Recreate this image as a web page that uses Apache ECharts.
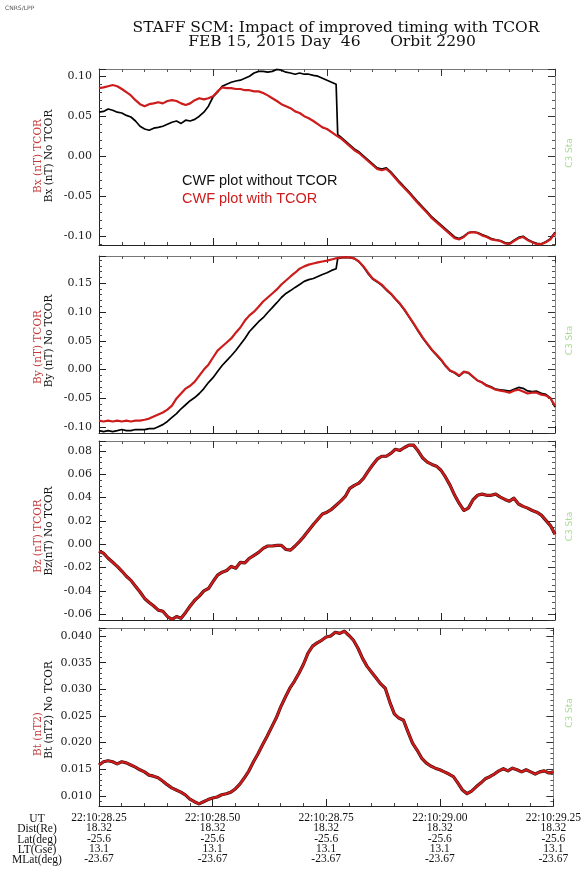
<!DOCTYPE html>
<html>
<head>
<meta charset="utf-8">
<script src="https://cdn.jsdelivr.net/npm/echarts@6/dist/echarts.min.js"></script>
<style>
  html, body { margin: 0; padding: 0; background: #fff; }
  #chart { width: 584px; height: 874px; }
</style>
</head>
<body>
<div id="chart"></div>
<script>
// Sample grid: seconds after 22:10, one sample every 0.01 s
const T0 = 28.25;
const DT = 0.01;

// UT tick labels and orbit information rows
const utLabels = ['22:10:28.25', '22:10:28.50', '22:10:28.75', '22:10:29.00', '22:10:29.25'];
const distRe = ['18.32', '18.32', '18.32', '18.32', '18.32'];
const latDeg = ['-25.6', '-25.6', '-25.6', '-25.6', '-25.6'];
const ltGse = ['13.1', '13.1', '13.1', '13.1', '13.1'];
const mlatDeg = ['-23.67', '-23.67', '-23.67', '-23.67', '-23.67'];
const rowNames = ['UT', 'Dist(Re)', 'Lat(deg)', 'LT(Gse)', 'MLat(deg)'];

// Bx (nT)
const bxTcor = [0.085, 0.086, 0.0875, 0.089, 0.0875, 0.084, 0.080, 0.076, 0.070, 0.065,
  0.0625, 0.065, 0.066, 0.0675, 0.066, 0.069, 0.070, 0.069, 0.066, 0.064,
  0.066, 0.070, 0.0725, 0.071, 0.0725, 0.075, 0.081, 0.086, 0.085, 0.085,
  0.084, 0.084, 0.0825, 0.0825, 0.081, 0.081, 0.079, 0.076, 0.0725, 0.069,
  0.065, 0.0625, 0.060, 0.056, 0.054, 0.050, 0.0475, 0.044, 0.040, 0.036,
  0.034, 0.030, 0.026, 0.0225, 0.0175, 0.0125, 0.0075, 0.004, -0.001, -0.006,
  -0.011, -0.016, -0.0175, -0.016, -0.021, -0.0275, -0.034, -0.040, -0.046, -0.0525,
  -0.059, -0.065, -0.071, -0.0775, -0.0825, -0.0875, -0.0925, -0.0975, -0.1025, -0.104,
  -0.101, -0.096, -0.095, -0.096, -0.099, -0.101, -0.104, -0.105, -0.106, -0.109,
  -0.110, -0.106, -0.1025, -0.101, -0.105, -0.1075, -0.110, -0.110, -0.1075, -0.104, -0.096];
const bxNoTcor = [0.055, 0.056, 0.059, 0.0575, 0.055, 0.054, 0.051, 0.049, 0.044, 0.0375,
  0.034, 0.0325, 0.035, 0.036, 0.0375, 0.040, 0.0425, 0.044, 0.041, 0.045,
  0.044, 0.046, 0.050, 0.055, 0.0625, 0.074, 0.080, 0.0875, 0.090, 0.0925,
  0.094, 0.095, 0.0975, 0.100, 0.104, 0.106, 0.106, 0.105, 0.106, 0.1085,
  0.1075, 0.105, 0.104, 0.1025, 0.104, 0.1025, 0.1025, 0.101, 0.100, 0.0975,
  0.095, 0.0925, 0.090, 0.024, 0.019, 0.014, 0.009, 0.0055, 0.0005, -0.0045,
  -0.0095, -0.0145, -0.016, -0.0145, -0.0195, -0.026, -0.0325, -0.0385, -0.0445, -0.051,
  -0.0575, -0.0635, -0.0695, -0.076, -0.081, -0.086, -0.091, -0.096, -0.101, -0.103,
  -0.100, -0.0955, -0.0945, -0.0955, -0.098, -0.100, -0.103, -0.1045, -0.1055, -0.108,
  -0.109, -0.105, -0.1015, -0.100, -0.104, -0.107, -0.109, -0.1095, -0.107, -0.103, -0.095];
// the uncorrected timing jumps between two samples
const bxNoTcorJump = [[28.7725, 0.089], [28.7735, 0.027]];

// By (nT)
const byTcor = [-0.0885, -0.090, -0.0885, -0.090, -0.0885, -0.090, -0.0885, -0.090, -0.0885, -0.0885,
  -0.087, -0.085, -0.0815, -0.078, -0.0745, -0.0695, -0.0625, -0.050, -0.0415, -0.033,
  -0.028, -0.021, -0.0105, 0.000, 0.0085, 0.021, 0.033, 0.040, 0.047, 0.054,
  0.064, 0.073, 0.085, 0.094, 0.1005, 0.109, 0.118, 0.125, 0.132, 0.139,
  0.1475, 0.1545, 0.1615, 0.168, 0.175, 0.179, 0.182, 0.184, 0.186, 0.1875,
  0.189, 0.191, 0.193, 0.1945, 0.1945, 0.1945, 0.193, 0.1875, 0.179, 0.168,
  0.158, 0.153, 0.1475, 0.139, 0.132, 0.123, 0.1145, 0.104, 0.092, 0.080,
  0.0675, 0.0555, 0.045, 0.0345, 0.026, 0.0175, 0.007, -0.0015, -0.005, -0.0105,
  -0.0035, -0.005, -0.012, -0.019, -0.0225, -0.028, -0.031, -0.035, -0.0365, -0.038,
  -0.040, -0.0365, -0.035, -0.038, -0.0415, -0.040, -0.040, -0.0435, -0.045, -0.050, -0.0625];
const byNoTcor = [-0.106, -0.1075, -0.106, -0.1075, -0.106, -0.104, -0.106, -0.106, -0.104, -0.104,
  -0.104, -0.1025, -0.1025, -0.099, -0.0955, -0.090, -0.083, -0.0765, -0.068, -0.061,
  -0.054, -0.0485, -0.0415, -0.033, -0.0225, -0.014, -0.0035, 0.007, 0.0155, 0.024,
  0.033, 0.0435, 0.054, 0.066, 0.0745, 0.083, 0.090, 0.099, 0.1075, 0.116,
  0.125, 0.132, 0.137, 0.1425, 0.1475, 0.153, 0.156, 0.158, 0.1615, 0.165,
  0.168, 0.172, 0.175, 0.1935, 0.1945, 0.194, 0.1925, 0.187, 0.178, 0.1665,
  0.157, 0.152, 0.146, 0.138, 0.131, 0.122, 0.1135, 0.103, 0.091, 0.079,
  0.0665, 0.0545, 0.044, 0.0335, 0.025, 0.0165, 0.006, -0.0025, -0.006, -0.0115,
  -0.0045, -0.006, -0.0125, -0.019, -0.022, -0.027, -0.030, -0.034, -0.035, -0.036,
  -0.0375, -0.034, -0.031, -0.0325, -0.037, -0.038, -0.0375, -0.041, -0.043, -0.049, -0.065];
const byNoTcorJump = [[28.7725, 0.176], [28.7735, 0.1925]];

// Bz (nT)
const bzTcor = [-0.006, -0.0077, -0.012, -0.0155, -0.019, -0.023, -0.0275, -0.031, -0.036, -0.041,
  -0.0465, -0.050, -0.053, -0.0565, -0.0575, -0.062, -0.0645, -0.062, -0.0635, -0.0585,
  -0.053, -0.048, -0.0445, -0.040, -0.038, -0.032, -0.0265, -0.024, -0.0225, -0.019,
  -0.0205, -0.0155, -0.016, -0.012, -0.0095, -0.007, -0.0035, -0.0015, -0.0015, -0.001,
  -0.001, -0.0045, -0.005, -0.0015, 0.0025, 0.007, 0.012, 0.017, 0.0215, 0.026,
  0.0275, 0.030, 0.0335, 0.037, 0.041, 0.048, 0.0505, 0.0525, 0.0565, 0.0625,
  0.068, 0.073, 0.0755, 0.0755, 0.078, 0.0815, 0.0805, 0.083, 0.085, 0.085,
  0.080, 0.074, 0.0705, 0.0685, 0.067, 0.0635, 0.0575, 0.0505, 0.042, 0.035,
  0.029, 0.031, 0.038, 0.042, 0.043, 0.042, 0.042, 0.043, 0.0405, 0.0385,
  0.037, 0.0395, 0.0345, 0.0325, 0.031, 0.029, 0.0275, 0.025, 0.0205, 0.016, 0.0085];
const bzNoTcor = bzTcor;

// Bt (nT2)
const btTcor = [0.0158, 0.0164, 0.0166, 0.0164, 0.0160, 0.0164, 0.0162, 0.0158, 0.0154, 0.0149,
  0.0145, 0.0139, 0.0137, 0.0134, 0.0128, 0.0121, 0.0115, 0.0111, 0.0107, 0.0102,
  0.0094, 0.0089, 0.0085, 0.0089, 0.0093, 0.0096, 0.0098, 0.0102, 0.0104, 0.0107,
  0.0113, 0.0122, 0.0134, 0.0147, 0.0164, 0.0179, 0.0196, 0.0212, 0.0229, 0.0246,
  0.0267, 0.0285, 0.0302, 0.0315, 0.0330, 0.0347, 0.0368, 0.0381, 0.0387, 0.0392,
  0.0398, 0.0400, 0.0407, 0.0405, 0.0409, 0.0401, 0.0392, 0.0377, 0.0358, 0.0343,
  0.0332, 0.0321, 0.0310, 0.0302, 0.0276, 0.0254, 0.0246, 0.0242, 0.0220, 0.0199,
  0.0186, 0.0171, 0.0162, 0.0156, 0.0152, 0.0149, 0.0145, 0.0141, 0.0136, 0.0124,
  0.0111, 0.0104, 0.0109, 0.0117, 0.0124, 0.0132, 0.0136, 0.0141, 0.0147, 0.0151,
  0.0147, 0.0152, 0.0149, 0.0145, 0.0149, 0.0145, 0.0141, 0.0145, 0.0147, 0.0143, 0.0145];
const btNoTcor = btTcor;

// Axis names per panel (corrected, uncorrected)
const panelNames = [
  ['Bx (nT) TCOR', 'Bx (nT) No TCOR'],
  ['By (nT) TCOR', 'By (nT) No TCOR'],
  ['Bz (nT) TCOR', 'Bz(nT) No TCOR'],
  ['Bt (nT2)', 'Bt (nT2) No TCOR']
];

const RED = '#cc1c1c';
const SERIF = '"DejaVu Serif", "Liberation Serif", serif';

function toPairs(vals, extra) {
  const pts = vals.map((v, i) => [Math.round((T0 + i * DT) * 1000) / 1000, v]);
  if (extra) pts.push(...extra);
  pts.sort((a, b) => a[0] - b[0]);
  return pts;
}

const grids = [
  { left: 99, right: 29, top: 69, height: 176 },
  { left: 99, right: 29, top: 256, height: 177 },
  { left: 99, right: 29, top: 441, height: 179 },
  { left: 99, right: 29, top: 628, height: 178 }
];
const yCfg = [
  { min: -0.111, max: 0.109, split: 5, minor: 5, dec: 2 },
  { min: -0.110, max: 0.197, split: 6, minor: 5, dec: 2 },
  { min: -0.065, max: 0.0886, split: 8, minor: 4, dec: 2 },
  { min: 0.0081, max: 0.0415, split: 7, minor: 5, dec: 3 }
];

const xAxes = [];
const yAxes = [];
grids.forEach((g, k) => {
  const last = k === grids.length - 1;
  xAxes.push({
    type: 'value', gridIndex: k, min: 28.25, max: 29.25, interval: 0.25, position: 'bottom',
    axisLine: { onZero: false, lineStyle: { color: '#222', width: 1 } },
    axisTick: { inside: true, length: 7, lineStyle: { color: '#222' } },
    minorTick: { show: true, splitNumber: 5, length: 3, lineStyle: { color: '#444' } },
    splitLine: { show: false },
    axisLabel: last ? {
      show: true, margin: 7, lineHeight: 10.3, fontSize: 11.5, color: '#111', fontFamily: '"Liberation Serif", serif',
      formatter: (v) => {
        const i = Math.round((v - 28.25) / 0.25);
        return [utLabels[i], distRe[i], latDeg[i], ltGse[i], mlatDeg[i]].join('\n');
      }
    } : { show: false }
  });
  xAxes.push({
    type: 'value', gridIndex: k, min: 28.25, max: 29.25, interval: 0.25, position: 'top',
    axisLine: { onZero: false, lineStyle: { color: '#777', width: 1 } },
    axisTick: { inside: true, length: 7, lineStyle: { color: '#333' } },
    minorTick: { show: true, splitNumber: 5, length: 3, lineStyle: { color: '#555' } },
    splitLine: { show: false },
    axisLabel: { show: false }
  });
  const c = yCfg[k];
  yAxes.push({
    type: 'value', gridIndex: k, min: c.min, max: c.max, splitNumber: c.split, position: 'left',
    axisLine: { show: true, onZero: false, lineStyle: { color: '#222', width: 1 } },
    axisTick: { inside: true, length: 7, lineStyle: { color: '#222' } },
    minorTick: { show: true, splitNumber: c.minor, length: 3, lineStyle: { color: '#444' } },
    splitLine: { show: false },
    axisLabel: {
      show: true, margin: 7, fontSize: 11, color: '#222', fontFamily: SERIF,
      showMinLabel: false, showMaxLabel: false,
      formatter: (v) => v.toFixed(c.dec)
    }
  });
  yAxes.push({
    type: 'value', gridIndex: k, min: c.min, max: c.max, splitNumber: c.split, position: 'right',
    axisLine: { show: true, onZero: false, lineStyle: { color: '#888', width: 1 } },
    axisTick: { inside: true, length: 7, lineStyle: { color: '#333' } },
    minorTick: { show: true, splitNumber: c.minor, length: 3, lineStyle: { color: '#555' } },
    splitLine: { show: false },
    axisLabel: { show: false }
  });
});

function line(name, k, data, color, width, z) {
  return {
    name, type: 'line', xAxisIndex: 2 * k, yAxisIndex: 2 * k, data,
    showSymbol: false, symbol: 'none', z, clip: true,
    lineStyle: { color, width, join: 'round' }, emphasis: { disabled: true }
  };
}

const series = [
  line('Bx No TCOR', 0, toPairs(bxNoTcor, bxNoTcorJump), '#000', 1.7, 2),
  line('Bx TCOR', 0, toPairs(bxTcor), RED, 2.2, 3),
  line('By No TCOR', 1, toPairs(byNoTcor, byNoTcorJump), '#000', 1.7, 2),
  line('By TCOR', 1, toPairs(byTcor), RED, 2.2, 3),
  line('Bz No TCOR', 2, toPairs(bzNoTcor), '#3a0a0a', 3.2, 2),
  line('Bz TCOR', 2, toPairs(bzTcor), RED, 2.2, 3),
  line('Bt No TCOR', 3, toPairs(btNoTcor), '#3a0a0a', 3.2, 2),
  line('Bt TCOR', 3, toPairs(btTcor), RED, 2.2, 3)
];

// Texts around the plot frames
const nameCenters = [
  [156, 156], [347, 341], [536, 531], [734, 710]
];
const graphic = [
  { type: 'text', left: 5, top: 5, style: { text: 'CNRS/LPP', fill: '#555', font: '6px "DejaVu Sans", sans-serif' } },
  { type: 'text', x: 336, y: 28, style: { text: 'STAFF SCM: Impact of improved timing with TCOR', fill: '#111',
      font: '15.5px ' + SERIF, align: 'center', verticalAlign: 'middle' } },
  { type: 'text', x: 332, y: 42, style: { text: 'FEB 15, 2015 Day  46      Orbit 2290', fill: '#111',
      font: '15.5px ' + SERIF, align: 'center', verticalAlign: 'middle' } },
  { type: 'text', x: 182, y: 181, style: { text: 'CWF plot without TCOR', fill: '#111',
      font: '14.5px "Liberation Sans", Arial, sans-serif', verticalAlign: 'middle' } },
  { type: 'text', x: 182, y: 199, style: { text: 'CWF plot with TCOR', fill: RED,
      font: '14.5px "Liberation Sans", Arial, sans-serif', verticalAlign: 'middle' } },
  { type: 'text', x: 37, y: 814, style: { text: rowNames.join('\n'), fill: '#111', lineHeight: 10.3,
      font: '11.5px "Liberation Serif", serif', align: 'center', verticalAlign: 'top' } }
];
panelNames.forEach((pair, k) => {
  graphic.push({ type: 'text', x: 38, y: nameCenters[k][0], rotation: Math.PI / 2,
    style: { text: pair[0], fill: '#c43c3c', font: '10.5px ' + SERIF, align: 'center', verticalAlign: 'middle' } });
  graphic.push({ type: 'text', x: 49, y: nameCenters[k][1], rotation: Math.PI / 2,
    style: { text: pair[1], fill: '#111', font: '10.5px ' + SERIF, align: 'center', verticalAlign: 'middle' } });
  const g = grids[k];
  graphic.push({ type: 'text', x: 570, y: g.top + g.height / 2 - 4, rotation: Math.PI / 2,
    style: { text: 'C3 Sta', fill: '#a9dc94', font: '9px "DejaVu Sans", sans-serif', align: 'center', verticalAlign: 'middle' } });
});

const chart = echarts.init(document.getElementById('chart'), null, { renderer: 'canvas' });
chart.setOption({
  animation: false,
  backgroundColor: '#fff',
  grid: grids,
  xAxis: xAxes,
  yAxis: yAxes,
  series,
  graphic
});
</script>
</body>
</html>
